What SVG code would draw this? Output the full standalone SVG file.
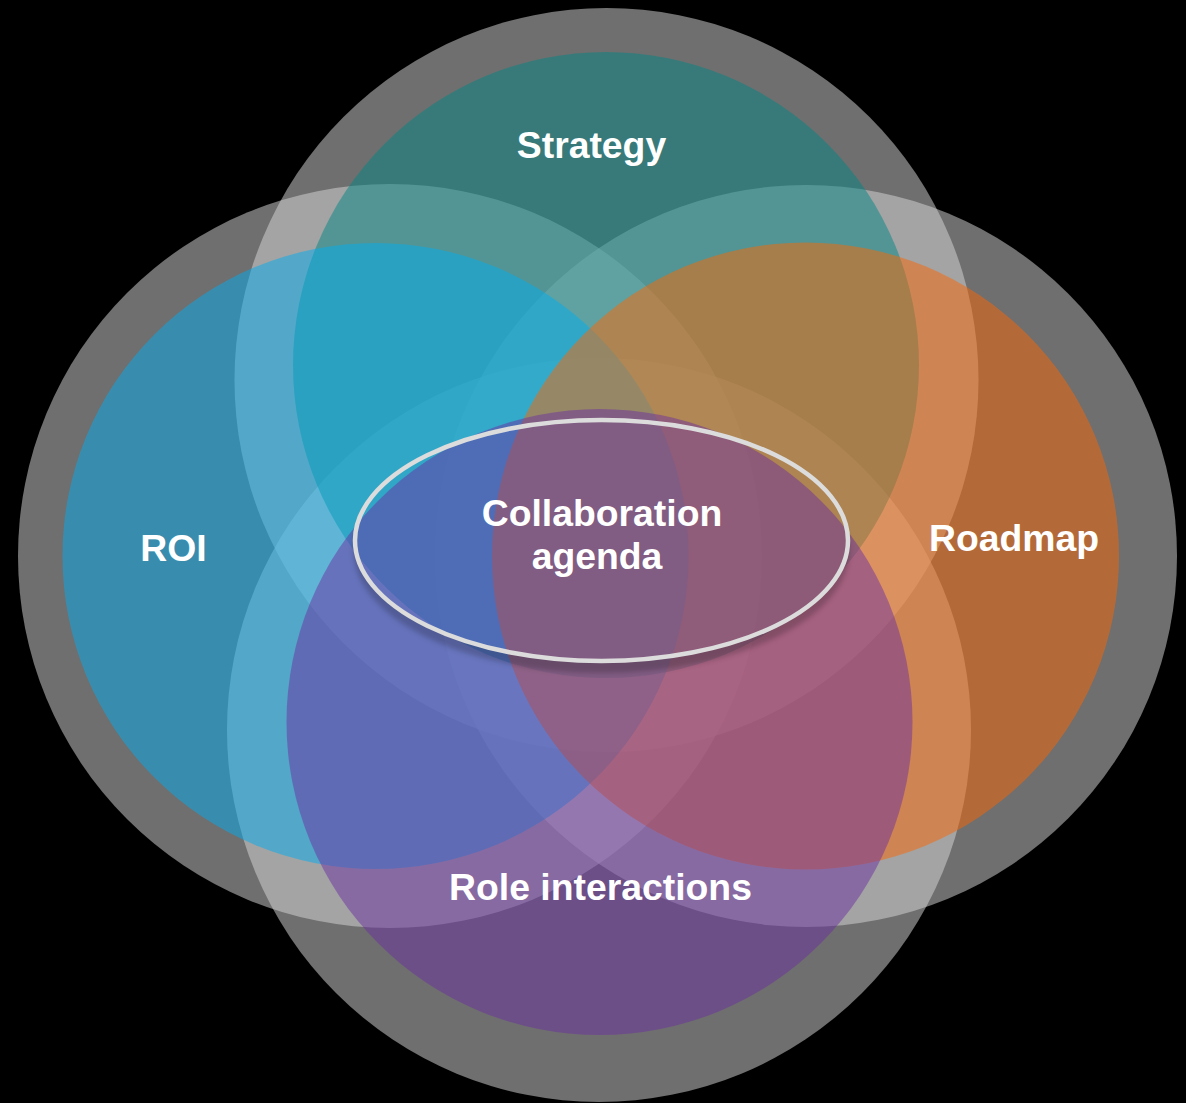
<svg xmlns="http://www.w3.org/2000/svg" width="1186" height="1103" viewBox="0 0 1186 1103">
  <defs>
    <style>
      .halo { fill: #d4d4d4; fill-opacity: 0.52; }
      .set { fill-opacity: 0.49; }
      .lbl { font-family: "Liberation Sans", Arial, sans-serif; font-weight: bold; font-size: 37.33px; fill: #ffffff; text-anchor: middle; }
    </style>
    <filter id="soft" x="-10%" y="-20%" width="120%" height="140%">
      <feGaussianBlur stdDeviation="2.5"/>
    </filter>
    <mask id="outside" maskUnits="userSpaceOnUse" x="0" y="0" width="1186" height="1103">
      <rect x="0" y="0" width="1186" height="1103" fill="#ffffff"/>
      <ellipse cx="601.5" cy="540.5" rx="246.5" ry="120.5" fill="#000000"/>
    </mask>
  </defs>
  <rect x="0" y="0" width="1186" height="1103" fill="#000000"/>

  <g id="halos">
    <circle id="halo-strategy" class="halo" cx="606.5" cy="380" r="372"/>
    <circle id="halo-roi" class="halo" cx="390" cy="556" r="372"/>
    <circle id="halo-roadmap" class="halo" cx="806" cy="556" r="371"/>
    <circle id="halo-role" class="halo" cx="599" cy="730" r="372"/>
  </g>

  <g id="node-strategy">
    <circle class="set" cx="606" cy="365" r="313" fill="#008785"/>
    <text class="lbl" x="591.5" y="158">Strategy</text>
  </g>

  <g id="node-roi">
    <circle class="set" cx="375.5" cy="556" r="313" fill="#00adf0"/>
    <text class="lbl" x="173.5" y="561">ROI</text>
  </g>

  <g id="node-roadmap">
    <circle class="set" cx="805.5" cy="556" r="313.5" fill="#fd6600"/>
    <text class="lbl" x="1014" y="551">Roadmap</text>
  </g>

  <g id="node-role">
    <circle class="set" cx="599.5" cy="722" r="313" fill="#6c2fa1"/>
    <text class="lbl" x="600.5" y="900">Role interactions</text>
  </g>

  <g id="node-collaboration">
    <g mask="url(#outside)">
      <ellipse cx="601.5" cy="551" rx="248" ry="122" fill="#000000" fill-opacity="0.2" filter="url(#soft)"/>
    </g>
    <ellipse cx="601.5" cy="540.5" rx="246.5" ry="120.5" fill="none" stroke="#dcdcdc" stroke-width="4.5"/>
    <text class="lbl" x="602" y="526">Collaboration</text>
    <text class="lbl" x="597" y="569">agenda</text>
  </g>

  <g id="connectors"/>
</svg>
